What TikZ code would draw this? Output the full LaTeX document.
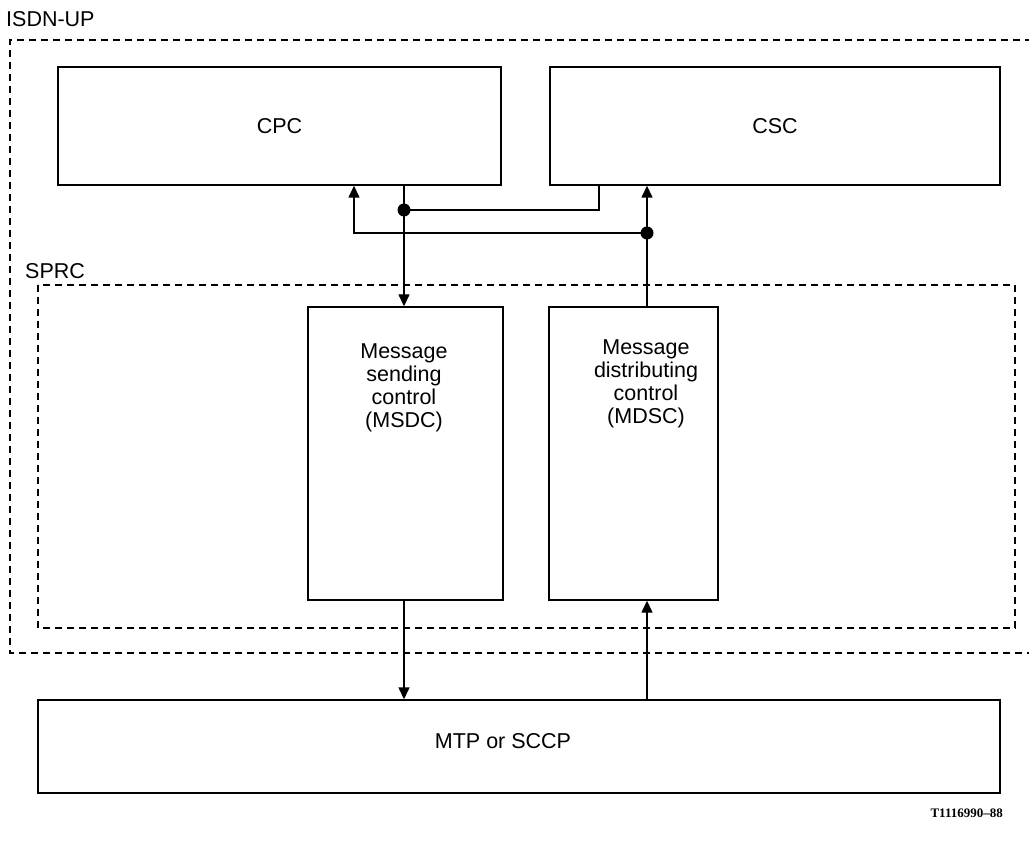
\documentclass[tikz,border=0pt]{standalone}
\usepackage{fontspec}
\setmainfont{Liberation Sans}
\newfontfamily\refserif{Liberation Serif}
\usetikzlibrary{arrows.meta}
\begin{document}
\begin{tikzpicture}[x=1pt,y=-1pt,
  box/.style={draw,line width=1.4pt,inner sep=0pt},
  dashbox/.style={draw,line width=1.3pt,dash pattern=on 7pt off 5pt},
  conn/.style={line width=1.4pt},
  arr/.style={conn,-{Triangle[length=12pt,width=11pt]}},
  dot/.style={circle,fill=black,inner sep=0pt,minimum size=13pt},
  txt/.style={font=\fontsize{21.5}{23}\selectfont,align=center}]
\useasboundingbox (0,0) rectangle (1029,845);
% outer dashed region
\draw[dashbox] (1032,40) -- (10,40) -- (10,653) -- (1032,653);
\node[txt,anchor=west,inner sep=0pt] (isdn) at (6,19) {ISDN-UP};
% inner dashed region
\draw[dashbox] (38,285) rectangle (1015,628);
\node[txt,anchor=west,inner sep=0pt] (sprc) at (25,271) {SPRC};
% boxes
\node[box,minimum width=443pt,minimum height=118pt] (cpc) at (279.5,126) {};
\node[txt] at (cpc.center) {CPC};
\node[box,minimum width=450pt,minimum height=118pt] (csc) at (775,126) {};
\node[txt] at (csc.center) {CSC};
\node[box,minimum width=195pt,minimum height=293pt] (msdc) at (405.5,453.5) {};
\node[txt] at (404,388) {Message\\sending\\control\\(MSDC)};
\node[box,minimum width=169pt,minimum height=293pt] (mdsc) at (633.5,453.5) {};
\node[txt] at (646,384) {Message\\distributing\\control\\(MDSC)};
\node[box,minimum width=962pt,minimum height=93pt] (mtp) at (519,746.5) {};
\node[txt] at (503,741) {MTP or SCCP};
\node[anchor=east,inner sep=0pt,font=\refserif\bfseries\fontsize{13}{15}\selectfont] (ref) at (1003,813) {T1116990\textendash88};
% junctions
\coordinate (d1) at (404,210);
\coordinate (d2) at (647,233);
\coordinate (k1) at (599,210);
\coordinate (k2) at (354,233);
% connectors
\draw[arr] (cpc.south -| d1) -- (msdc.north -| d1);
\draw[conn] (d1) -- (k1) -- (k1 |- csc.south);
\draw[arr] (d2) -- (k2) -- (k2 |- cpc.south);
\draw[arr] (mdsc.north -| d2) -- (csc.south -| d2);
\draw[arr] (msdc.south -| d1) -- (mtp.north -| d1);
\draw[arr] (mtp.north -| d2) -- (mdsc.south -| d2);
\node[dot] (j1) at (d1) {};
\node[dot] (j2) at (d2) {};
\end{tikzpicture}
\end{document}
